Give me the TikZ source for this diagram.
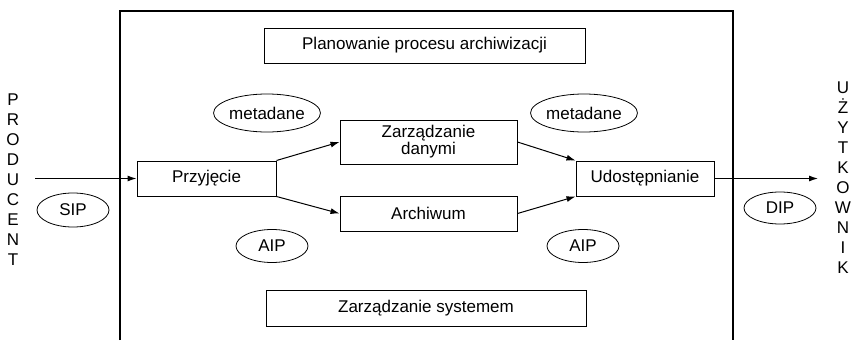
\documentclass[tikz,border=0pt]{standalone}
\usepackage{fontspec}
\setmainfont{Liberation Sans}
\usepackage{tikz}
\usetikzlibrary{shapes.geometric, arrows.meta, positioning}
\tikzset{
  >={Latex[length=9,width=6]},
  every node/.style={font=\fontsize{17}{19}\selectfont},
  box/.style={draw,line width=1,inner sep=0,minimum height=35,align=center},
  tag/.style={draw,ellipse,line width=0.8,inner sep=0,minimum width=72,minimum height=33},
  side/.style={align=center,inner sep=0,font=\fontsize{17}{20}\selectfont},
  flow/.style={->,line width=1}
}
\begin{document}
\begin{tikzpicture}[x=1pt, y=-1pt]
  \useasboundingbox (0,0) rectangle (854,340);

  % frame (open at the bottom)
  \draw[line width=1.2] (120,340) |- (733,11) -- (733,340);

  % boxes
  \node[box,minimum width=321] (plan) at (424.5,45.5) {Planowanie procesu archiwizacji};
  \node[box,minimum width=139] (przyj) at (206.5,178.5) {Przyjęcie};
  \node[box,minimum width=177,minimum height=44] (zarz) at (428.5,142) {Zarządzanie\\[-2pt]danymi};
  \node[box,minimum width=177] (arch) at (428.5,213.5) {Archiwum};
  \node[box,minimum width=138] (udost) at (645,178.5) {Udostępnianie};
  \node[box,minimum width=320,minimum height=36] (sys) at (426,308) {Zarządzanie systemem};

  % ellipses
  \node[tag,minimum width=95,minimum height=38] (metaL) at (267,113) {metadane};
  \node[tag,minimum width=95,minimum height=38] (metaR) at (584,113) {metadane};
  \node[tag] (aipL) at (272,246) {AIP};
  \node[tag] (aipR) at (583,246) {AIP};
  \node[tag,minimum height=34] (sip) at (73,210) {SIP};
  \node[tag,minimum height=32] (dip) at (780,208) {DIP};

  % producer / user
  \node[side] (prod) at (13,180) {P\\R\\O\\D\\U\\C\\E\\N\\T};
  \node[side] (user) at (843,178) {U\\Ż\\Y\\T\\K\\O\\W\\N\\I\\K};

  % arrows
  \coordinate (prodin) at (35,178.5);
  \coordinate (userout) at (818,178.5);
  \draw[flow] (prodin) -- (przyj);
  \draw[flow] (przyj.north east) -- (zarz.west);
  \draw[flow] (przyj.south east) -- (arch.west);
  \draw[flow] (zarz.east) -- (udost.north west);
  \draw[flow] (arch.east) -- (udost.south west);
  \draw[flow] (udost) -- (userout);

\end{tikzpicture}
\end{document}
